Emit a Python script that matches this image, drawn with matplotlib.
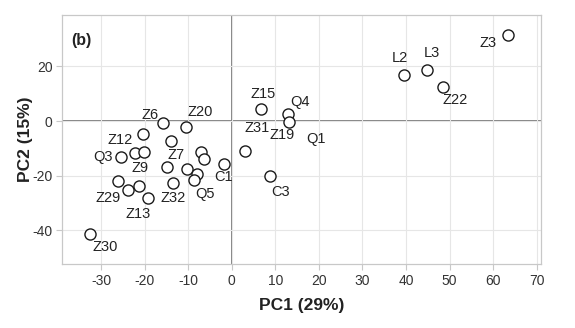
import matplotlib
matplotlib.use("Agg")
import matplotlib.pyplot as plt

plt.rcParams['font.family'] = ['Liberation Sans', 'DejaVu Sans']
plt.rcParams['axes.unicode_minus'] = False

# PCA scores of the samples
pc1 = [63.5, 39.6, 44.9, 48.4,
       6.7, 12.8, 13.2, 3.0, 8.8,
       -15.8, -10.6, -20.3, -13.9, -25.5, -22.2, -20.1, -7.0, -6.4, -1.7,
       -14.8, -10.2, -7.9, -8.6, -13.5, -26.2, -23.9, -21.4, -19.2, -32.5]
pc2 = [31.6, 17.0, 18.6, 12.6,
       4.4, 2.6, -0.3, -11.0, -20.0,
       -0.8, -2.1, -4.9, -7.3, -13.2, -11.6, -11.4, -11.5, -13.9, -15.6,
       -16.8, -17.6, -19.4, -21.6, -22.6, -21.9, -25.3, -23.9, -28.3, -41.4]

# sample names and the score each one is written beside
sample_names = ["Z3", "L2", "L3", "Z22", "Z15", "Q4", "Z19", "Q1", "Z31", "C3",
                "Z6", "Z20", "Z12", "Z7", "Q3", "Z9", "C1", "Q5", "Z32",
                "Z29", "Z13", "Z30"]
name_point = [0, 1, 2, 3, 4, 5, 6, 6, 7, 8,
              9, 10, 11, 12, 13, 15, 18, 22, 23,
              25, 27, 28]
# text offsets in points
name_offset = [(-14.4, -5.8), (-3.1, 11.7), (3.2, 12.2), (8.9, -9.6),
               (1.7, 10.8), (9.1, 8.9), (-5.5, -9.6), (19.2, -12.7),
               (8.6, 16.3), (7.2, -11.5),
               (-9.1, 6.0), (10.6, 10.8), (-16.8, -4.1), (3.6, -10.1),
               (-12.5, 0.2), (-2.9, -11.3), (-0.7, -9.8), (7.7, -10.1),
               (0.0, -11.2), (-14.0, -6.0), (-7.0, -11.3), (10.8, -9.6)]

x_ticks = [-30, -20, -10, 0, 10, 20, 30, 40, 50, 60, 70]
y_ticks = [-40, -20, 0, 20]

fig = plt.figure(figsize=(5.75, 3.28), dpi=100)
ax = fig.add_axes([0.108, 0.195, 0.833, 0.759])

ax.set_xlim(-38.95, 71.0)
ax.set_ylim(-52.4, 38.8)
ax.set_xticks(x_ticks)
ax.set_yticks(y_ticks)
ax.grid(True, color="#e6e6e6", linewidth=0.8, zorder=0)
ax.axhline(0, color="#7a7a7a", linewidth=1.3, zorder=1)
ax.axvline(0, color="#7a7a7a", linewidth=1.3, zorder=1)

ax.plot(pc1, pc2, linestyle="none", marker="o", markersize=8,
        markerfacecolor="white", markeredgecolor="#1a1a1a",
        markeredgewidth=1.0, zorder=3)

for name, idx, (dx, dy) in zip(sample_names, name_point, name_offset):
    ax.annotate(name, (pc1[idx], pc2[idx]), xytext=(dx, dy),
                textcoords="offset points", ha="center", va="center",
                fontsize=10.5, color="#222222", zorder=4)

for s in ax.spines.values():
    s.set_color("#c8c8c8")
    s.set_linewidth(0.9)
ax.tick_params(length=4, width=0.8, color="#c8c8c8", labelsize=10,
               labelcolor="#333333", pad=3)

ax.set_xlabel("PC1 (29%)", fontsize=12.5, fontweight="bold", color="#222222")
ax.set_ylabel("PC2 (15%)", fontsize=12.5, fontweight="bold", color="#222222")
ax.xaxis.set_label_coords(0.5, -0.137)
ax.yaxis.set_label_coords(-0.06, 0.5)
ax.text(0.02, 0.93, "(b)", transform=ax.transAxes, fontsize=11.5,
        fontweight="bold", color="#222222", ha="left", va="top")

fig.savefig("out.png", dpi=100, facecolor="white")
